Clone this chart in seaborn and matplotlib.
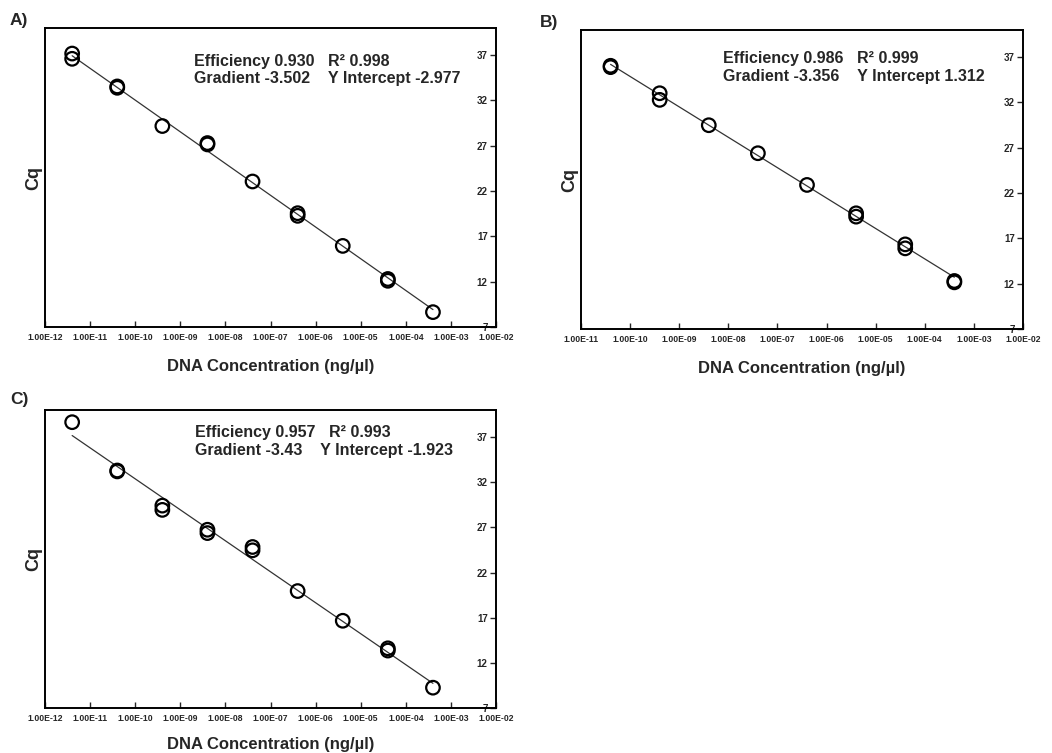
import numpy as np
import pandas as pd
import matplotlib
matplotlib.use("Agg")
import matplotlib.pyplot as plt
import seaborn as sns

# ---- data ----
conc_A = [4e-12, 4e-12, 4e-11, 4e-11, 4e-10, 4e-9, 4e-9, 4e-8, 4e-7, 4e-7, 4e-6, 4e-5, 4e-5, 4e-4]
cq_A = [37.18, 36.6, 33.55, 33.4, 29.18, 27.3, 27.15, 23.06, 19.56, 19.27, 15.95, 12.3, 12.1, 8.64]
conc_B = [4e-11, 4e-11, 4e-10, 4e-10, 4e-9, 4e-8, 4e-7, 4e-6, 4e-6, 4e-5, 4e-5, 4e-4, 4e-4]
cq_B = [36.05, 35.9, 33.02, 32.29, 29.49, 26.4, 22.9, 19.77, 19.4, 16.34, 15.9, 12.3, 12.15]
conc_C = [4e-12, 4e-11, 4e-11, 4e-10, 4e-10, 4e-9, 4e-9, 4e-8, 4e-8, 4e-7, 4e-6, 4e-5, 4e-5, 4e-4]
cq_C = [38.65, 33.3, 33.2, 29.41, 28.94, 26.74, 26.37, 24.83, 24.46, 19.95, 16.66, 13.61, 13.36, 9.25]

panels = ["A)", "B)", "C)"]
efficiency = ["0.930", "0.986", "0.957"]
r2 = ["0.998", "0.999", "0.993"]
gradient = [-3.502, -3.356, -3.43]
intercept = [-2.977, 1.312, -1.923]
grad_txt = ["-3.502", "-3.356", "-3.43"]
icpt_txt = ["-2.977", "1.312", "-1.923"]
x_min_exp = [-12, -11, -12]
x_max_exp = -2
y_ticks = [7, 12, 17, 22, 27, 32, 37]

sns.set_style("white")
plt.rcParams['font.family'] = ['Liberation Sans', 'DejaVu Sans']

W, H = 1052, 753
fig = plt.figure(figsize=(W / 100, H / 100), dpi=100)

def frac(x0, y0, x1, y1):
    return [x0 / W, 1 - y1 / H, (x1 - x0) / W, (y1 - y0) / H]

boxes = [frac(45, 28, 496, 327), frac(581, 30, 1023, 329), frac(45, 410, 496, 708)]
label_pos = [(10, 28), (540, 30), (10, 407)]
xlab_y = [366, 368, 745]
text_pos = [(194, 66), (723, 63), (195, 437)]
datasets = [(conc_A, cq_A), (conc_B, cq_B), (conc_C, cq_C)]

for i, box in enumerate(boxes):
    ax = fig.add_axes(box)
    conc, cq = datasets[i]
    df = pd.DataFrame({"logc": np.log10(conc), "cq": cq})
    # fitted line
    xs = np.array([df.logc.min(), df.logc.max()])
    fit = pd.DataFrame({"logc": xs, "cq": gradient[i] * xs + intercept[i]})
    sns.lineplot(data=fit, x="logc", y="cq", ax=ax, color="#333333", lw=0.9, zorder=2)
    sns.scatterplot(data=df, x="logc", y="cq", ax=ax, marker="o", s=95,
                    facecolor="none", edgecolor="black", linewidth=1.6, zorder=3)
    ax.set_xlim(x_min_exp[i], x_max_exp)
    ax.set_ylim(7, 40)
    xt = list(range(x_min_exp[i], x_max_exp + 1))
    ax.set_xticks(xt)
    ax.set_xticklabels([f"1.00E-{abs(e):02d}" for e in xt], fontsize=6.2, fontweight="bold")
    ax.set_yticks(y_ticks)
    ax.yaxis.tick_right()
    ax.set_yticklabels([str(t) for t in y_ticks], fontsize=7, fontweight="bold", ha="right")
    ax.tick_params(axis="y", direction="in", length=4, width=1, pad=-6, right=True, left=False)
    ax.tick_params(axis="x", direction="in", length=4, width=1, pad=4, bottom=True)
    for s in ax.spines.values():
        s.set_color("black")
        s.set_linewidth(1.4)
    ax.set_xlabel("")
    ax.set_ylabel("Cq", fontsize=13, fontweight="bold", labelpad=2)
    ax.yaxis.set_label_position("left")
    cx = (box[0] + box[2] / 2)
    fig.text(cx, 1 - xlab_y[i] / H, "DNA Concentration (ng/µl)", ha="center", va="center",
             fontsize=12, fontweight="bold")
    lx, ly = label_pos[i]
    fig.text(lx / W, 1 - ly / H, panels[i], ha="left", va="bottom", fontsize=12.5, fontweight="bold")
    tx, ty = text_pos[i]
    fig.text(tx / W, 1 - ty / H, f"Efficiency {efficiency[i]}   R² {r2[i]}", ha="left",
             va="baseline", fontsize=11.5, fontweight="bold")
    fig.text(tx / W, 1 - (ty + 17.5) / H, f"Gradient {grad_txt[i]}    Y Intercept {icpt_txt[i]}",
             ha="left", va="baseline", fontsize=11.5, fontweight="bold")

fig.savefig("out.png", dpi=100)
